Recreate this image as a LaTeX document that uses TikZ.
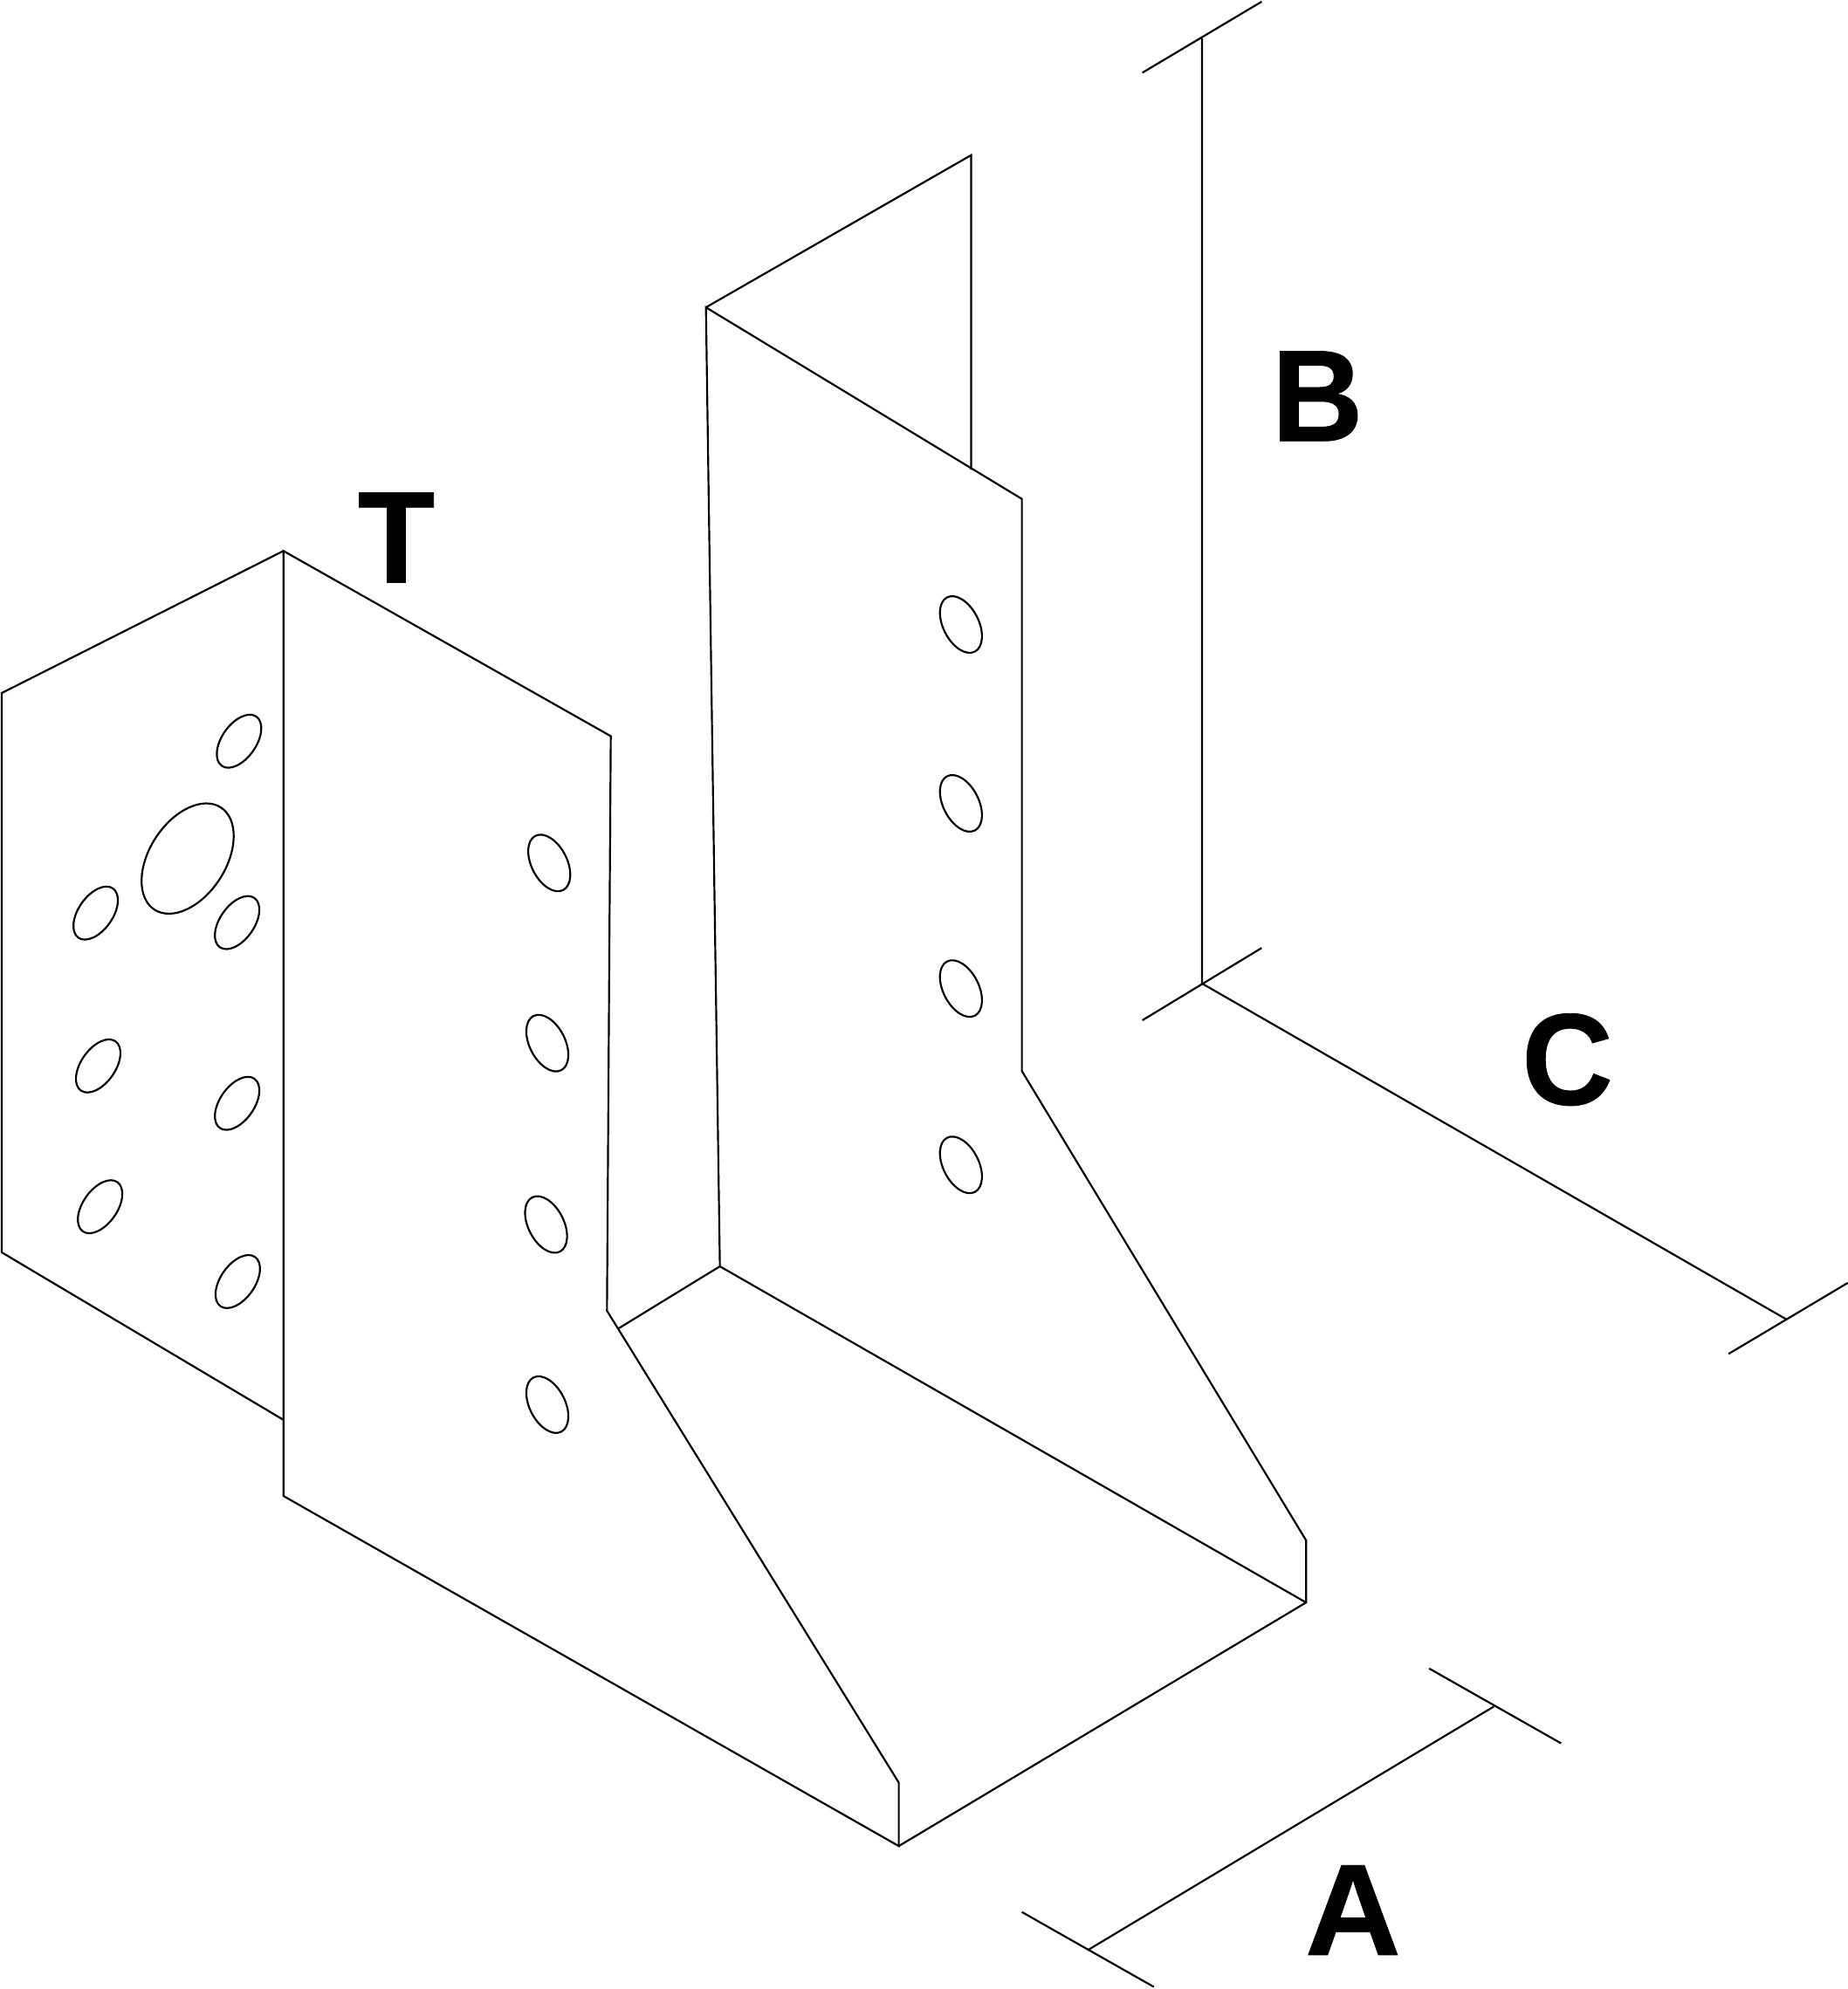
\documentclass[tikz,border=0pt]{standalone}
\usepackage{fontspec}
\setmainfont{Liberation Sans}
\newfontfamily\labelfont[FakeBold=0.6,FakeStretch=0.97]{Liberation Sans Bold}
\tikzset{
  part/.style={line width=1.5*0.2835pt, line join=miter, black},
  dimline/.style={line width=1.5*0.2835pt, black},
  dimlabel/.style={font=\labelfont\fontsize{29.2pt}{30pt}\selectfont, inner sep=0pt, text=black}
}
\newcommand{\holeL}[2]{\draw[part] (#1,#2) ellipse [x radius=0.237cm, y radius=0.135cm, rotate=55];}
\newcommand{\holeR}[2]{\draw[part] (#1,#2) ellipse [x radius=0.24cm, y radius=0.14cm, rotate=117];}
\begin{document}
\begin{tikzpicture}[x=0.01cm,y=-0.01cm]
\useasboundingbox (-0.4,-0.3) rectangle (1455.6,1567.7);
% left flange
\draw[part] (223,434) -- (1,546) -- (1,987) -- (223,1119);
% front side plate
\draw[part] (223,434) -- (223,1179) -- (708,1455) -- (708,1405) -- (478,1033) -- (481,580) -- cycle;
% seat and rear side plate
\draw[part] (708,1455) -- (1029,1263) -- (1029,1214) -- (805,844) -- (805,393) -- (556,242) -- (567,998) -- (487,1047);
\draw[part] (567,998) -- (1029,1263);
\draw[part] (556,242) -- (765,122) -- (765,370);
% holes, left flange
\holeL{188}{584}
\holeL{75}{719.5}
\holeL{186.5}{727}
\holeL{77}{840}
\holeL{186.5}{869.5}
\holeL{78.5}{951}
\holeL{187}{1010}
\draw[part] (147.5,676.5) ellipse [x radius=0.48cm, y radius=0.30cm, rotate=57];
% holes, front plate
\holeR{432.5}{680}
\holeR{431}{822}
\holeR{430}{965}
\holeR{431}{1107}
% holes, rear plate
\holeR{757}{492}
\holeR{757}{633}
\holeR{757}{779}
\holeR{757}{918}
% dimensions
\draw[dimline] (947,30) -- (947,775) -- (1408,1040);
\draw[dimline] (900,57) -- (994,1);
\draw[dimline] (900,804) -- (994,747);
\draw[dimline] (1362,1067) -- (1456,1011);
\draw[dimline] (857,1537) -- (1177,1345);
\draw[dimline] (805,1507) -- (909,1566);
\draw[dimline] (1126,1315) -- (1230,1374);
% labels
\node[dimlabel] (labelT) at (312,423.5) {T};
\node[dimlabel] (labelB) at (1038,312) {B};
\node[dimlabel] (labelC) at (1235,835) {C};
\node[dimlabel,xscale=1.05] (labelA) at (1066,1505.5) {A};
\end{tikzpicture}
\end{document}
